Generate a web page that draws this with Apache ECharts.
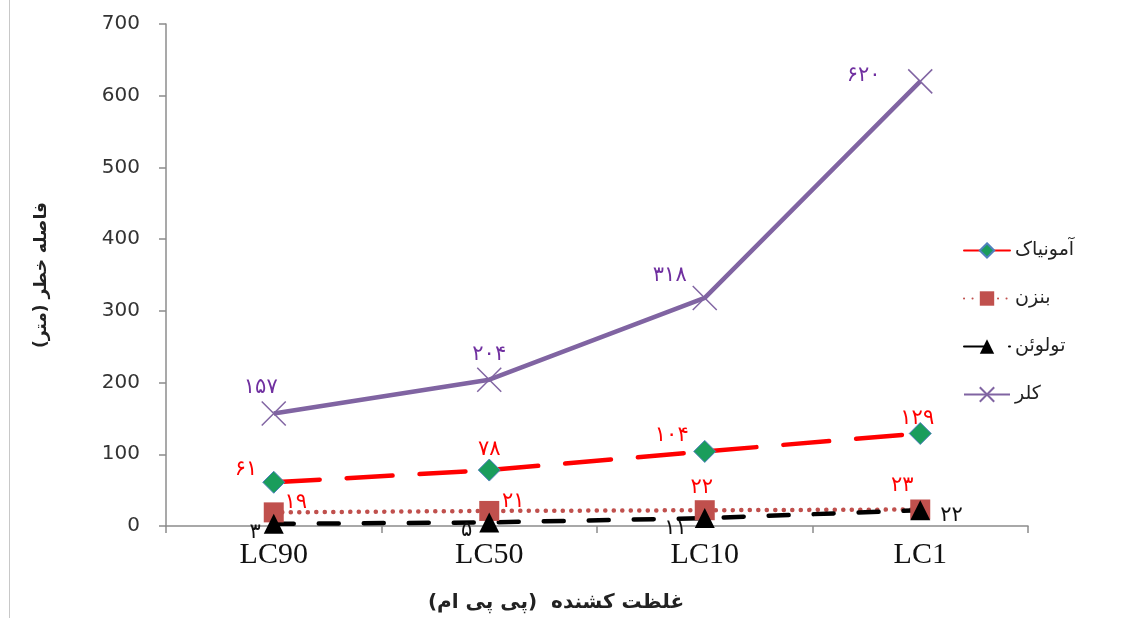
<!DOCTYPE html>
<html>
<head>
<meta charset="utf-8">
<script src="https://cdn.jsdelivr.net/npm/echarts@6/dist/echarts.min.js"></script>
<style>
  html, body { margin: 0; padding: 0; background: #fff; }
  #chart { width: 1121px; height: 618px; }
</style>
</head>
<body>
<div id="chart"></div>
<script>
// داده‌ها
const categories = ['LC90', 'LC50', 'LC10', 'LC1']
const yTicks = [0, 100, 200, 300, 400, 500, 600, 700]
const seriesNames = ['آمونیاک', 'بنزن', 'تولوئن', 'کلر']
const ammonia = [61, 78, 104, 129]
const benzene = [19, 21, 22, 23]
const toluene = [3, 5, 11, 22]
const chlorine = [157, 204, 318, 620]

// Persian digits for labels
const faDigits = v => String(v).replace(/\d/g, d => '۰۱۲۳۴۵۶۷۸۹'[d])

// label placement per point (style only)
const ammoniaLbl = [['left', [0, -13]], ['top', [0, 6]], ['top', [-33, 11]], ['top', [-3, 12]]]
const benzeneLbl = [['top', [22, 16]], ['top', [24, 16]], ['top', [-3, 3]], ['top', [-18, 2]]]
const tolueneLbl = [['left', [2, 9]], ['left', [-2, 8]], ['left', [-3, 10]], ['right', [5, 5]]]
const chlorineLbl = [['top', [-13, 2]], ['top', [0, 3]], ['top', [-35, 6]], ['left', [-22, -6]]]

function withLabels(values, places) {
  return values.map((v, i) => ({
    value: v,
    label: { position: places[i][0], offset: places[i][1] }
  }))
}

const chart = echarts.init(document.getElementById('chart'))

const labelBase = {
  show: true,
  fontFamily: 'DejaVu Sans',
  fontSize: 21,
  distance: 5,
  formatter: p => faDigits(p.value)
}

chart.setOption({
  animation: false,
  backgroundColor: '#fff',
  grid: { left: 166, right: 93, top: 24, bottom: 80, containLabel: false },
  graphic: [{
    type: 'line',
    shape: { x1: 9.5, y1: 0, x2: 9.5, y2: 618 },
    style: { stroke: '#c8c8c8', lineWidth: 1 }
  }],
  legend: {
    orient: 'vertical',
    left: 958,
    top: 236,
    itemWidth: 46,
    itemHeight: 18,
    itemGap: 29,
    textStyle: { fontFamily: 'DejaVu Sans', fontSize: 19, color: '#222' },
    data: seriesNames
  },
  xAxis: {
    type: 'category',
    data: categories,
    boundaryGap: true,
    name: 'غلظت کشنده  (پی پی ام)',
    nameLocation: 'middle',
    nameGap: 67,
    nameTextStyle: { fontFamily: 'DejaVu Sans', fontSize: 20, fontWeight: 'bold', color: '#222', padding: [0, 82, 0, 0] },
    axisLine: { lineStyle: { color: '#8c8c8c', width: 1.5 } },
    axisTick: { show: true, length: 7, lineStyle: { color: '#8c8c8c', width: 1.5 } },
    axisLabel: { fontFamily: 'Liberation Serif', fontSize: 30, color: '#111', margin: 14 }
  },
  yAxis: {
    type: 'value',
    min: yTicks[0],
    max: yTicks[yTicks.length - 1],
    interval: 100,
    name: 'فاصله خطر (متر)',
    nameLocation: 'middle',
    nameGap: 116,
    nameTextStyle: { fontFamily: 'DejaVu Sans', fontSize: 17, fontWeight: 'bold', color: '#222' },
    axisLine: { show: true, lineStyle: { color: '#8c8c8c', width: 1.5 } },
    axisTick: { show: true, length: 7, lineStyle: { color: '#8c8c8c', width: 1.5 } },
    axisLabel: { fontFamily: 'DejaVu Sans', fontSize: 20, color: '#333', margin: 26 },
    splitLine: { show: false }
  },
  series: [
    {
      name: seriesNames[0],
      type: 'line',
      data: withLabels(ammonia, ammoniaLbl),
      symbol: 'diamond',
      symbolSize: 22,
      itemStyle: { color: '#1a9d5c', borderColor: '#4f81bd', borderWidth: 1 },
      lineStyle: { color: '#ff0000', width: 4.5, type: [46, 27], cap: 'round' },
      label: Object.assign({}, labelBase, { color: '#ff0000' })
    },
    {
      name: seriesNames[1],
      type: 'line',
      data: withLabels(benzene, benzeneLbl),
      symbol: 'rect',
      symbolSize: 20,
      itemStyle: { color: '#c0504d' },
      lineStyle: { color: '#c0504d', width: 4.5, type: [0.1, 8.4], cap: 'round' },
      label: Object.assign({}, labelBase, { color: '#ff0000' })
    },
    {
      name: seriesNames[2],
      type: 'line',
      data: withLabels(toluene, tolueneLbl),
      symbol: 'triangle',
      symbolSize: 20,
      itemStyle: { color: '#000' },
      lineStyle: { color: '#000', width: 4.5, type: [20, 25], cap: 'round' },
      label: Object.assign({}, labelBase, { color: '#111' })
    },
    {
      name: seriesNames[3],
      type: 'line',
      data: withLabels(chlorine, chlorineLbl),
      symbol: 'path://M0,0L10,10M10,0L0,10',
      symbolSize: 24,
      itemStyle: { color: 'rgba(0,0,0,0)', borderColor: '#8064a2', borderWidth: 1.5 },
      lineStyle: { color: '#8064a2', width: 4.5 },
      label: Object.assign({}, labelBase, { color: '#7030a0' })
    }
  ]
})
</script>
</body>
</html>
